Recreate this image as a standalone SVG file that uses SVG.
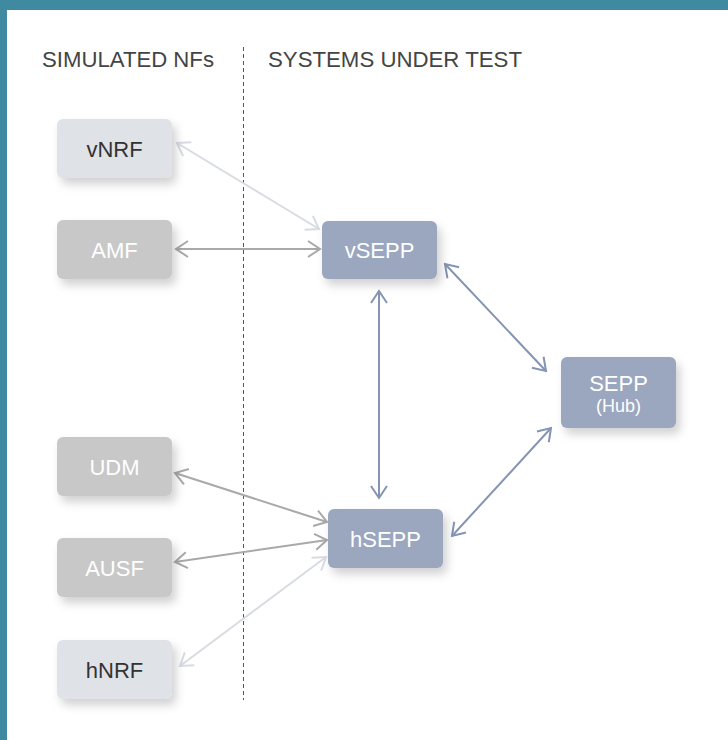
<svg xmlns="http://www.w3.org/2000/svg" width="728" height="740" viewBox="0 0 728 740">
  <style>
    .hdr { font-family: "Liberation Sans", Arial, sans-serif; font-size: 22px; fill: #444; }
    .lbl { font-family: "Liberation Sans", Arial, sans-serif; font-size: 22px; text-anchor: middle; }
    .sub { font-family: "Liberation Sans", Arial, sans-serif; font-size: 18px; text-anchor: middle; fill: #fff; }
    .light rect { fill: #dfe2e7; }
    .light text { fill: #333; }
    .gray rect { fill: #c8c8c8; }
    .gray text { fill: #fff; }
    .blue rect { fill: #9ba6bf; }
    .blue text { fill: #fff; }
    .node rect { filter: url(#shadow); }
    .c { fill: none; stroke-width: 2; }
    .cl { stroke: #d8dce2; marker-start: url(#ml); marker-end: url(#ml); }
    .cg { stroke: #a9a9a9; marker-start: url(#mg); marker-end: url(#mg); }
    .cb { stroke: #8594b3; marker-start: url(#mb); marker-end: url(#mb); }
  </style>
  <defs>
    <filter id="shadow" x="-20%" y="-20%" width="150%" height="160%">
      <feDropShadow dx="4" dy="6" stdDeviation="5" flood-color="#000" flood-opacity="0.18"/>
    </filter>
    <marker id="ml" viewBox="-14 -10 16 20" refX="0" refY="0" markerWidth="16" markerHeight="20" markerUnits="userSpaceOnUse" orient="auto-start-reverse">
      <path d="M-12,-8 L0,0 L-12,8" fill="none" stroke="#d8dce2" stroke-width="2"/>
    </marker>
    <marker id="mg" viewBox="-14 -10 16 20" refX="0" refY="0" markerWidth="16" markerHeight="20" markerUnits="userSpaceOnUse" orient="auto-start-reverse">
      <path d="M-12,-8 L0,0 L-12,8" fill="none" stroke="#a9a9a9" stroke-width="2"/>
    </marker>
    <marker id="mb" viewBox="-14 -10 16 20" refX="0" refY="0" markerWidth="16" markerHeight="20" markerUnits="userSpaceOnUse" orient="auto-start-reverse">
      <path d="M-12,-8 L0,0 L-12,8" fill="none" stroke="#8594b3" stroke-width="2"/>
    </marker>
  </defs>

  <rect x="0" y="0" width="728" height="740" fill="#ffffff"/>
  <rect x="0" y="0" width="728" height="10" fill="#3f8aa1"/>
  <rect x="0" y="0" width="7" height="740" fill="#3f8aa1"/>

  <g id="headers">
    <text class="hdr" x="42" y="67" textLength="172" lengthAdjust="spacingAndGlyphs">SIMULATED NFs</text>
    <text class="hdr" x="268" y="67" textLength="254" lengthAdjust="spacingAndGlyphs">SYSTEMS UNDER TEST</text>
    <line x1="243.5" y1="47" x2="243.5" y2="700" stroke="#555" stroke-width="1" stroke-dasharray="4 3"/>
  </g>

  <g id="connectors">
    <line class="c cl" x1="177" y1="143" x2="319" y2="229"/>
    <line class="c cg" x1="176" y1="249" x2="320" y2="249"/>
    <line class="c cb" x1="445" y1="264" x2="546" y2="371"/>
    <line class="c cb" x1="379" y1="291" x2="379" y2="498"/>
    <line class="c cb" x1="551" y1="428" x2="452" y2="536"/>
    <line class="c cg" x1="175" y1="473" x2="327" y2="522"/>
    <line class="c cg" x1="175" y1="562" x2="327" y2="540"/>
    <line class="c cl" x1="180" y1="666" x2="326" y2="557"/>
  </g>

  <g id="vNRF" class="node light">
    <rect x="57" y="119" width="115" height="59" rx="6"/>
    <text class="lbl" x="114.5" y="156.5">vNRF</text>
  </g>
  <g id="AMF" class="node gray">
    <rect x="57" y="220" width="115" height="59" rx="6"/>
    <text class="lbl" x="114.5" y="257.5">AMF</text>
  </g>
  <g id="UDM" class="node gray">
    <rect x="57" y="437" width="115" height="59" rx="6"/>
    <text class="lbl" x="114.5" y="474.5">UDM</text>
  </g>
  <g id="AUSF" class="node gray">
    <rect x="57" y="538" width="115" height="59" rx="6"/>
    <text class="lbl" x="114.5" y="575.5">AUSF</text>
  </g>
  <g id="hNRF" class="node light">
    <rect x="57" y="640" width="115" height="59" rx="6"/>
    <text class="lbl" x="114.5" y="677.5">hNRF</text>
  </g>
  <g id="vSEPP" class="node blue">
    <rect x="322" y="221" width="115" height="58" rx="6"/>
    <text class="lbl" x="379.5" y="258">vSEPP</text>
  </g>
  <g id="hSEPP" class="node blue">
    <rect x="328" y="509" width="115" height="59" rx="6"/>
    <text class="lbl" x="385.5" y="546.5">hSEPP</text>
  </g>
  <g id="SEPP-Hub" class="node blue">
    <rect x="561" y="357" width="115" height="71" rx="6"/>
    <text class="lbl" x="618.5" y="391">SEPP</text>
    <text class="sub" x="618.5" y="412">(Hub)</text>
  </g>
</svg>
